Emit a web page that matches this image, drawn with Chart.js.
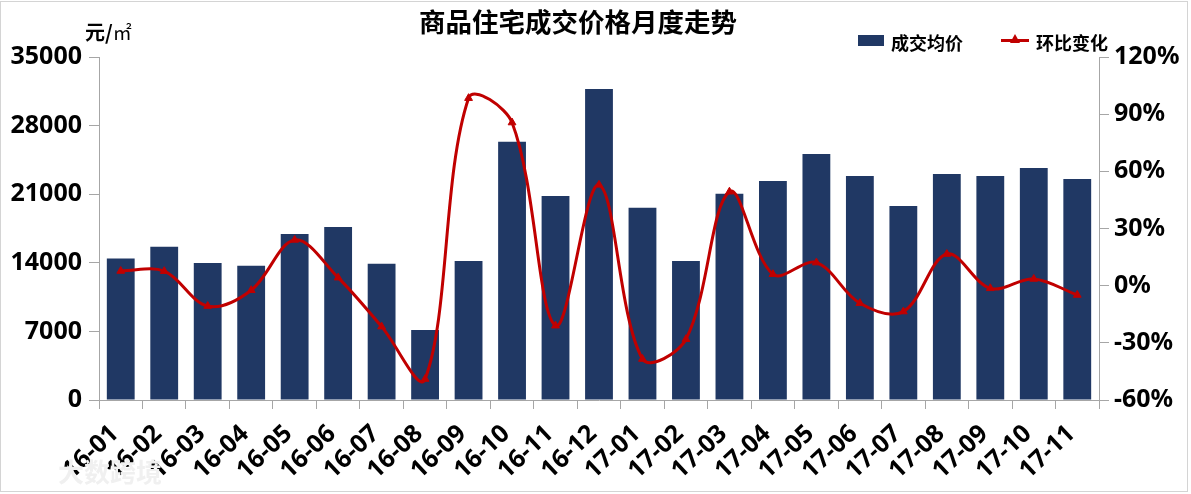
<!DOCTYPE html>
<html>
<head>
<meta charset="utf-8">
<script src="https://cdn.jsdelivr.net/npm/chart.js@4.4.0/dist/chart.umd.min.js"></script>
<style>
  html, body { margin: 0; padding: 0; background: #fff; }
  #wrap { position: relative; width: 1191px; height: 494px; overflow: hidden; }
  #frame { position: absolute; left: 0; top: 1px; width: 1188px; height: 491px; border: 1px solid #d4d4d4; box-sizing: border-box; pointer-events: none; }
  .txt { position: absolute; font-family: "Noto Sans CJK SC", "Noto Sans", sans-serif; font-weight: bold; color: #000; white-space: nowrap; }
  #title { left: 419px; top: 4px; font-size: 26.5px; line-height: 34px; }
  #unit { left: 85px; top: 18px; font-size: 20px; line-height: 28px; }
  #unit span { font-family: "Noto Sans CJK SC", serif; font-weight: normal; font-size: 19px; }
  .sw { position: absolute; }
  #mark { color: #f0f0f0; font-size: 26px; left: 58px; top: 452px; font-weight: bold; }
</style>
</head>
<body>
<div id="wrap">
  <canvas id="c" width="1191" height="494"></canvas>
  <div id="title" class="txt">商品住宅成交价格月度走势</div>
  <div id="unit" class="txt">元/<span>㎡</span></div>
  <div class="sw" style="left:858px;top:35px;width:26px;height:11px;background:#203864"></div>
  <div id="lg1" class="txt" style="left:891px;top:29px;font-size:18px;line-height:26px">成交均价</div>
  <div class="sw" style="left:1001px;top:39px;width:28px;height:3px;background:#c00000"></div>
  <div class="sw" style="left:1010px;top:34px;width:0;height:0;border-left:5px solid transparent;border-right:5px solid transparent;border-bottom:9px solid #c00000"></div>
  <div id="lg2" class="txt" style="left:1036px;top:29px;font-size:18px;line-height:26px">环比变化</div>
  <div id="mark" class="txt">大数跨境</div>
  <div id="frame"></div>
</div>
<script>
const months = ["16-01", "16-02", "16-03", "16-04", "16-05", "16-06", "16-07", "16-08",
  "16-09", "16-10", "16-11", "16-12", "17-01", "17-02", "17-03", "17-04", "17-05",
  "17-06", "17-07", "17-08", "17-09", "17-10", "17-11"];
const avgPrice = [14450, 15630, 13980, 13700, 16940, 17650, 13910, 7140, 14180, 26360,
  20820, 31730, 19620, 14180, 21050, 22340, 25100, 22850, 19800, 23060, 22850, 23670, 22550];
const momChange = [7.7, 7.6, -10.7, -2.4, 24, 4.2, -21.5, -49, 98.4, 85.6, -21, 52.9,
  -38.5, -28.1, 49.3, 6, 12.1, -9.2, -13.6, 16.6, -1.4, 3.5, -4.9];
const leftTicks = [0, 7000, 14000, 21000, 28000, 35000];
const rightTicks = [-60, -30, 0, 30, 60, 90, 120];

const tickFont = { family: "'Noto Sans', sans-serif", size: 25, weight: "bold" };
const axisGray = "#a6a6a6";

new Chart(document.getElementById("c"), {
  data: {
    labels: months,
    datasets: [
      {
        type: "line",
        label: "环比变化",
        data: momChange,
        yAxisID: "yR",
        borderColor: "#c00000",
        backgroundColor: "#c00000",
        borderWidth: 3,
        tension: 0.35,
        pointStyle: "triangle",
        pointRadius: 4.5,
        pointBorderWidth: 1
      },
      {
        type: "bar",
        label: "成交均价",
        data: avgPrice,
        yAxisID: "y",
        backgroundColor: "#203864",
        categoryPercentage: 1,
        barPercentage: 0.64
      }
    ]
  },
  options: {
    responsive: false,
    animation: false,
    layout: { padding: { top: 57, left: 0, right: 0, bottom: 0 } },
    plugins: {
      legend: { display: false },
      title: { display: false },
      tooltip: { enabled: false }
    },
    scales: {
      x: {
        offset: true,
        grid: { display: true, drawOnChartArea: false, drawTicks: true, tickLength: 9, color: axisGray, offset: true },
        border: { color: axisGray },
        ticks: {
          font: tickFont, color: "#000", autoSkip: false,
          maxRotation: 43, minRotation: 43, padding: 10, labelOffset: -6
        },
        afterFit: s => { s.height = 94; }
      },
      y: {
        position: "left",
        min: 0, max: 35000,
        afterBuildTicks: s => { s.ticks = leftTicks.map(v => ({ value: v })); },
        grid: { drawOnChartArea: false, drawTicks: true, tickLength: 10, color: axisGray },
        border: { color: axisGray },
        ticks: { font: tickFont, color: "#000", padding: 7, callback: v => String(v) },
        afterFit: s => { s.width = 99; }
      },
      yR: {
        position: "right",
        min: -60, max: 120,
        afterBuildTicks: s => { s.ticks = rightTicks.map(v => ({ value: v })); },
        grid: { drawOnChartArea: false, drawTicks: true, tickLength: 10, color: axisGray },
        border: { color: axisGray },
        ticks: { font: tickFont, color: "#000", padding: 5, callback: v => v + "%" },
        afterFit: s => { s.width = 92; }
      }
    }
  }
});
</script>
</body>
</html>
